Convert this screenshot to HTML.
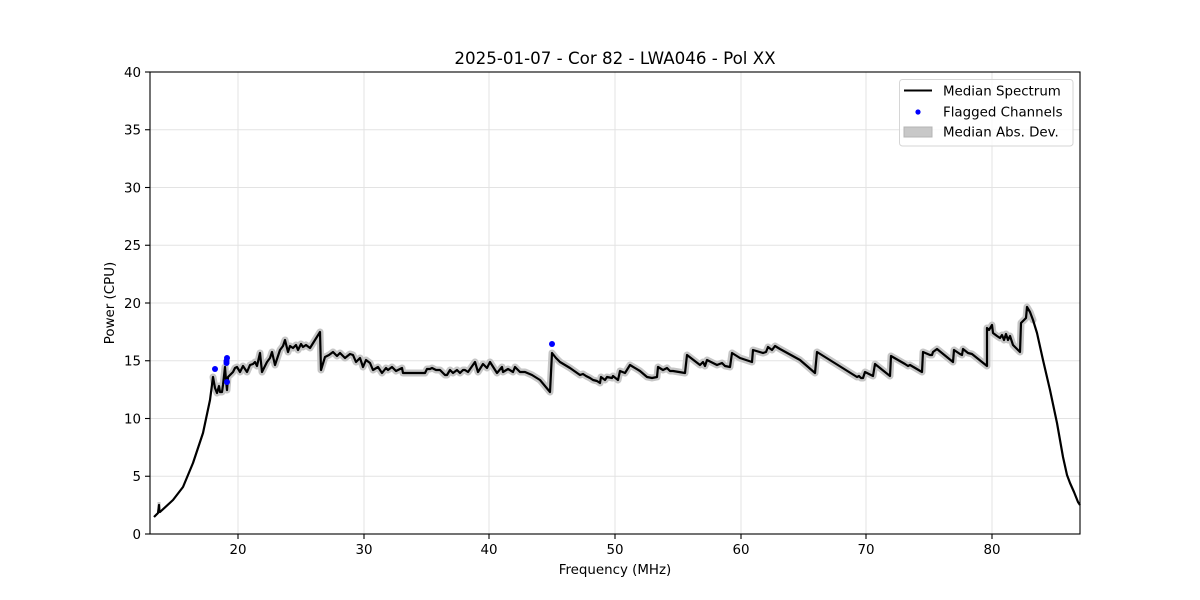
<!DOCTYPE html>
<html>
<head>
<meta charset="utf-8">
<style>
  html,body{margin:0;padding:0;background:#fff;}
  svg{display:block;}
  text{font-family:"DejaVu Sans","Liberation Sans",sans-serif;fill:#000;}
</style>
</head>
<body>
<svg width="1200" height="600" viewBox="0 0 1200 600" xmlns="http://www.w3.org/2000/svg">
  <rect x="0" y="0" width="1200" height="600" fill="#fff"/>
  <!-- grid -->
  <g stroke="#e3e3e3" stroke-width="1">
    <line x1="238" y1="72" x2="238" y2="534"/>
    <line x1="364" y1="72" x2="364" y2="534"/>
    <line x1="489" y1="72" x2="489" y2="534"/>
    <line x1="615" y1="72" x2="615" y2="534"/>
    <line x1="741" y1="72" x2="741" y2="534"/>
    <line x1="866" y1="72" x2="866" y2="534"/>
    <line x1="992" y1="72" x2="992" y2="534"/>
    <line x1="150" y1="476.25" x2="1080" y2="476.25"/>
    <line x1="150" y1="418.5" x2="1080" y2="418.5"/>
    <line x1="150" y1="360.75" x2="1080" y2="360.75"/>
    <line x1="150" y1="303" x2="1080" y2="303"/>
    <line x1="150" y1="245.25" x2="1080" y2="245.25"/>
    <line x1="150" y1="187.5" x2="1080" y2="187.5"/>
    <line x1="150" y1="129.75" x2="1080" y2="129.75"/>
  </g>

  <!-- MAD band -->
  <polyline fill="none" stroke="#c6c6c6" stroke-width="7" stroke-linejoin="round" stroke-linecap="round"
    points="213,377 215,388 217,393 219,386 220,392 222,392 223,385 225,367 226,380 227,390 228,377 233,372 235,368 237,367 240,372 243,366 247,372 250,365 253,364 255,362 257,366 260,353 262,372 267,362 270,358 272,352 275,365 280,350 283,346 285,340 288,352 290,346 293,348 296,345 298,350 301,344 303,347 306,345 310,348 320,332 321,370 325,357 329,355 333,352 337,356 340,353 345,358 350,354 353,355 356,362 360,358 363,367 366,360 370,363 373,370 378,367 382,373 386,368 388,370 392,367 396,371 400,369 402,368 403,373 425,373 427,369 430,369 432,368 436,370 440,370 445,375 447,375 450,370 453,373 457,370 460,373 463,370 465,370 468,372 475,362 478,372 483,364 487,368 490,362 497,373 502,367 503,372 508,369 513,372 515,367 520,372 525,372 532,375 540,380 550,392 552,353 556,358 560,362 570,368 580,375 583,374 586,376 590,378 593,380 597,381 600,383 601,377 605,380 607,377 612,378 613,376 618,380 620,371 625,373 630,365 640,371 647,377 652,378 657,377 658,367 663,370 667,368 670,371 673,371 685,373 687,355 700,365 703,362 705,366 707,360 717,365 722,363 725,366 730,367 732,353 740,358 752,362 753,350 763,353 766,352 768,347 772,350 775,346 780,349 800,360 815,373 817,352 857,377 859,376 861,378 863,378 865,372 873,376 875,364 890,376 891,356 905,364 908,366 910,365 922,372 923,352 930,355 932,355 933,352 937,349 953,362 954,350 960,354 962,355 963,349 968,353 972,354 987,366 987,328 989,330 992,325 993,333 997,336 1000,338 1002,335 1004,340 1006,334 1008,340 1010,336 1013,345 1020,352 1021,323 1024,320 1026,318 1027,307 1030,312 1033,320"/>
  <line x1="159" y1="502" x2="159" y2="512" stroke="#c6c6c6" stroke-width="3"/>

  <!-- median spectrum -->
  <polyline fill="none" stroke="#000" stroke-width="2.2" stroke-linejoin="round"
    points="154,517 158,513 159,505 159.5,512 160,512 173,500 183,487 193,463 203,433 210,400 213,377 215,388 217,393 219,386 220,392 222,392 223,385 225,367 226,380 227,390 228,377 233,372 235,368 237,367 240,372 243,366 247,372 250,365 253,364 255,362 257,366 260,353 262,372 267,362 270,358 272,352 275,365 280,350 283,346 285,340 288,352 290,346 293,348 296,345 298,350 301,344 303,347 306,345 310,348 320,332 321,370 325,357 329,355 333,352 337,356 340,353 345,358 350,354 353,355 356,362 360,358 363,367 366,360 370,363 373,370 378,367 382,373 386,368 388,370 392,367 396,371 400,369 402,368 403,373 425,373 427,369 430,369 432,368 436,370 440,370 445,375 447,375 450,370 453,373 457,370 460,373 463,370 465,370 468,372 475,362 478,372 483,364 487,368 490,362 497,373 502,367 503,372 508,369 513,372 515,367 520,372 525,372 532,375 540,380 550,392 552,353 556,358 560,362 570,368 580,375 583,374 586,376 590,378 593,380 597,381 600,383 601,377 605,380 607,377 612,378 613,376 618,380 620,371 625,373 630,365 640,371 647,377 652,378 657,377 658,367 663,370 667,368 670,371 673,371 685,373 687,355 700,365 703,362 705,366 707,360 717,365 722,363 725,366 730,367 732,353 740,358 752,362 753,350 763,353 766,352 768,347 772,350 775,346 780,349 800,360 815,373 817,352 857,377 859,376 861,378 863,378 865,372 873,376 875,364 890,376 891,356 905,364 908,366 910,365 922,372 923,352 930,355 932,355 933,352 937,349 953,362 954,350 960,354 962,355 963,349 968,353 972,354 987,366 987,328 989,330 992,325 993,333 997,336 1000,338 1002,335 1004,340 1006,334 1008,340 1010,336 1013,345 1020,352 1021,323 1024,320 1026,318 1027,307 1030,312 1033,320 1037,333 1043,360 1050,390 1057,423 1063,457 1067,475 1070,483 1074,492 1078,502 1080,505"/>

  <!-- flagged channels -->
  <g fill="#0000ff">
    <circle cx="215" cy="369" r="3"/>
    <circle cx="227" cy="358" r="3"/>
    <circle cx="226.5" cy="361" r="3"/>
    <circle cx="226.5" cy="363" r="3"/>
    <circle cx="227" cy="382" r="3"/>
    <circle cx="552" cy="344" r="3"/>
  </g>

  <!-- axes frame -->
  <rect x="150" y="72" width="930" height="462" fill="none" stroke="#000" stroke-width="1.1"/>

  <!-- ticks -->
  <g stroke="#000" stroke-width="1.1">
    <line x1="238" y1="534" x2="238" y2="539"/>
    <line x1="364" y1="534" x2="364" y2="539"/>
    <line x1="489" y1="534" x2="489" y2="539"/>
    <line x1="615" y1="534" x2="615" y2="539"/>
    <line x1="741" y1="534" x2="741" y2="539"/>
    <line x1="866" y1="534" x2="866" y2="539"/>
    <line x1="992" y1="534" x2="992" y2="539"/>
    <line x1="145" y1="534" x2="150" y2="534"/>
    <line x1="145" y1="476.25" x2="150" y2="476.25"/>
    <line x1="145" y1="418.5" x2="150" y2="418.5"/>
    <line x1="145" y1="360.75" x2="150" y2="360.75"/>
    <line x1="145" y1="303" x2="150" y2="303"/>
    <line x1="145" y1="245.25" x2="150" y2="245.25"/>
    <line x1="145" y1="187.5" x2="150" y2="187.5"/>
    <line x1="145" y1="129.75" x2="150" y2="129.75"/>
    <line x1="145" y1="72" x2="150" y2="72"/>
  </g>

  <!-- tick labels -->
  <g font-size="13.4" text-anchor="middle">
    <text x="238" y="554">20</text>
    <text x="364" y="554">30</text>
    <text x="489" y="554">40</text>
    <text x="615" y="554">50</text>
    <text x="741" y="554">60</text>
    <text x="866" y="554">70</text>
    <text x="992" y="554">80</text>
  </g>
  <g font-size="13.4" text-anchor="end">
    <text x="141" y="539">0</text>
    <text x="141" y="481">5</text>
    <text x="141" y="423.5">10</text>
    <text x="141" y="365.5">15</text>
    <text x="141" y="308">20</text>
    <text x="141" y="250">25</text>
    <text x="141" y="192.5">30</text>
    <text x="141" y="134.5">35</text>
    <text x="141" y="77">40</text>
  </g>

  <!-- labels -->
  <text x="615" y="574" font-size="13.4" text-anchor="middle">Frequency (MHz)</text>
  <text x="0" y="0" font-size="13.4" text-anchor="middle" transform="translate(114,303) rotate(-90)">Power (CPU)</text>
  <text x="615" y="64" font-size="16.7" text-anchor="middle">2025-01-07 - Cor 82 - LWA046 - Pol XX</text>

  <!-- legend -->
  <rect x="899.5" y="79.5" width="173.5" height="66.5" rx="3" ry="3" fill="#fff" fill-opacity="0.8" stroke="#d6d6d6" stroke-width="1"/>
  <line x1="904" y1="90.5" x2="932" y2="90.5" stroke="#000" stroke-width="2"/>
  <circle cx="918" cy="112" r="2.6" fill="#0000ff"/>
  <rect x="904" y="127" width="28" height="10" fill="#c8c8c8" stroke="#b4b4b4" stroke-width="1"/>
  <g font-size="13.4">
    <text x="943" y="95.5">Median Spectrum</text>
    <text x="943" y="116.5">Flagged Channels</text>
    <text x="943" y="136.5">Median Abs. Dev.</text>
  </g>
</svg>
</body>
</html>
